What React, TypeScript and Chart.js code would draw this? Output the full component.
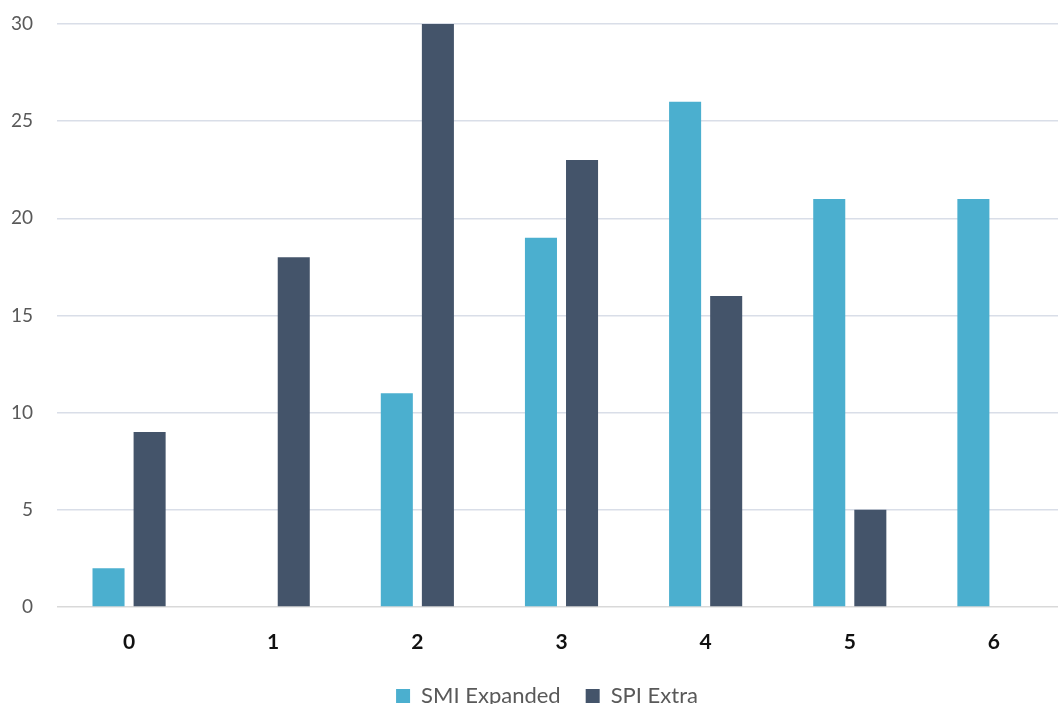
import React, { useEffect, useRef } from "react";
import { Chart, registerables } from "chart.js";

Chart.register(...registerables);

const categories = ["0", "1", "2", "3", "4", "5", "6"];
const smiExpanded = [2, 0, 11, 19, 26, 21, 21];
const spiExtra = [9, 18, 30, 23, 16, 5, 0];
const yTicks = [0, 5, 10, 15, 20, 25, 30];

const FONT = "Lato, 'Liberation Sans', sans-serif";

const shiftLegend = {
  id: "shiftLegend",
  afterLayout(chart: any) {
    const l = chart.legend;
    if (l) {
      l.left += 14;
      l.right += 14;
    }
  },
};

export default function App() {
  const ref = useRef<HTMLCanvasElement | null>(null);

  useEffect(() => {
    document.body.style.margin = "0";
    document.body.style.overflow = "hidden";
    const ctx = ref.current!;
    const chart = new Chart(ctx, {
      type: "bar",
      data: {
        labels: categories,
        datasets: [
          {
            label: "SMI Expanded",
            data: smiExpanded,
            backgroundColor: "#4BAFCF",
            categoryPercentage: 0.57,
            barPercentage: 0.78,
          },
          {
            label: "SPI Extra",
            data: spiExtra,
            backgroundColor: "#44546A",
            categoryPercentage: 0.57,
            barPercentage: 0.78,
          },
        ],
      },
      plugins: [shiftLegend],
      options: {
        animation: false,
        responsive: false,
        maintainAspectRatio: false,
        layout: { padding: { top: 24, right: 0, bottom: 0, left: 0 } },
        plugins: {
          tooltip: { enabled: false },
          legend: {
            position: "bottom",
            labels: {
              boxWidth: 14,
              boxHeight: 14,
              padding: 25,
              color: "#595959",
              font: { family: FONT, size: 22 },
            },
          },
        },
        scales: {
          x: {
            grid: { display: false, drawTicks: false },
            border: { display: false },
            ticks: {
              padding: 23,
              color: "#111111",
              font: { family: FONT, size: 21, weight: "bold" },
            },
            afterFit: (scale: any) => {
              scale.height = 53;
            },
          },
          y: {
            min: 0,
            max: 30,
            afterBuildTicks: (scale: any) => {
              scale.ticks = yTicks.map((v) => ({ value: v }));
            },
            grid: {
              drawTicks: true,
              tickLength: 24,
              tickColor: "rgba(0,0,0,0)",
              lineWidth: 1.5,
              color: (c: any) => (c.tick && c.tick.value === 0 ? "#D9D9D9" : "#D9DEE8"),
            },
            border: { display: false },
            ticks: {
              padding: 0,
              color: "#595959",
              font: { family: FONT, size: 19 },
            },
            afterFit: (scale: any) => {
              scale.width = 57;
            },
          },
        },
      },
    });
    return () => chart.destroy();
  }, []);

  return (
    <div
      style={{
        position: "fixed",
        left: 0,
        top: 0,
        width: 1058,
        height: 704,
        overflow: "hidden",
        background: "#fff",
      }}
    >
      <canvas ref={ref} width={1066} height={717} style={{ display: "block" }} />
    </div>
  );
}
